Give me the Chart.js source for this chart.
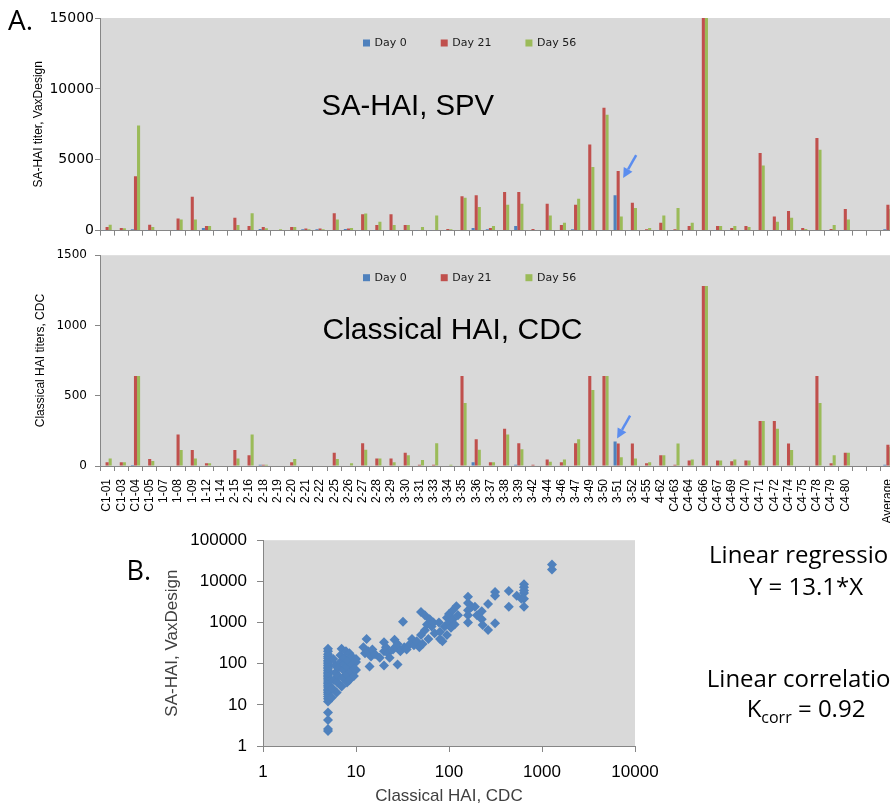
<!DOCTYPE html>
<html><head><meta charset="utf-8">
<script src="https://cdn.jsdelivr.net/npm/chart.js@4.4.0/dist/chart.umd.min.js"></script>
<style>
html,body{margin:0;padding:0;background:#fff;width:890px;height:807px;overflow:hidden;}
#wrap{position:relative;width:890px;height:807px;overflow:hidden;}
canvas{position:absolute;}
.t{position:absolute;white-space:nowrap;color:#000;}
</style></head><body>
<div id="wrap">
<canvas id="c1" width="895" height="240" style="left:0;top:0"></canvas>
<canvas id="c2" width="895" height="290" style="left:0;top:240px"></canvas>
<canvas id="c3" width="560" height="287" style="left:100px;top:520px"></canvas>
<div class="t" style="left:8px;top:5px;font:28px/1 'Open Sans'">A.</div>
<div class="t" style="left:321.5px;top:89.5px;font:29.3px/1 'Liberation Sans'">SA-HAI, SPV</div>
<div class="t" style="left:322.5px;top:313.6px;font:30px/1 'Liberation Sans'">Classical HAI, CDC</div>
<div class="t" style="left:126.5px;top:556px;font:27px/1 'Open Sans'">B.</div>
<div class="t" style="left:656px;width:300px;text-align:center;top:541.7px;font:24px/1 'Open Sans'">Linear regression</div>
<div class="t" style="left:656px;width:300px;text-align:center;top:573.7px;font:24px/1 'Open Sans'">Y = 13.1*X</div>
<div class="t" style="left:656px;width:300px;text-align:center;top:665.7px;font:24px/1 'Open Sans'">Linear correlation</div>
<div class="t" style="left:656px;width:300px;text-align:center;top:695.7px;font:24px/1 'Open Sans'">K<span style="font-size:16px;position:relative;top:6px">corr</span> = 0.92</div>
</div>
<script>
const categories = ['C1-01','C1-03','C1-04','C1-05','1-07','1-08','1-09','1-12','1-14','2-15','2-16','2-18','2-19','2-20','2-21','2-22','2-25','2-26','2-27','2-28','3-29','3-30','3-31','3-33','3-34','3-35','3-36','3-37','3-38','3-39','3-42','3-44','3-46','3-47','3-49','3-50','3-51','3-52','4-55','4-62','C4-63','C4-64','C4-66','C4-67','C4-69','C4-70','C4-71','C4-72','C4-74','C4-75','C4-78','C4-79','C4-80','','','Average'];
const seriesNames = ['Day 0','Day 21','Day 56'];

// SA-HAI titers, VaxDesign (panel A top)
const saDay0  = [20,0,100,30,0,30,0,190,30,30,0,120,0,0,95,100,0,120,30,30,30,30,30,30,30,0,190,95,0,330,0,30,0,95,30,30,2490,30,0,30,30,30,0,30,30,30,0,30,0,30,0,30,30,null,null,100];
const saDay21 = [250,190,3830,420,0,845,2390,330,0,915,330,260,0,250,140,140,1220,140,1150,400,1150,400,0,0,120,2420,2490,190,2720,2720,120,1900,400,1830,6080,8660,4200,1970,95,560,95,330,20480,330,190,330,5470,990,1390,190,6530,120,1530,null,null,1830];
const saDay56 = [420,165,7420,260,0,775,775,330,0,400,1220,165,95,250,95,100,775,190,1200,630,400,400,260,1060,95,2320,1670,330,1830,1900,0,1060,560,2250,4480,8170,990,1600,190,1060,1600,560,25600,330,330,260,4600,630,915,120,5700,400,775,null,null,1530];

// Classical HAI titers, CDC (panel A bottom)
const cdcDay0  = [0,0,7,0,0,0,0,0,0,0,0,9,0,0,0,0,0,0,0,0,0,0,0,0,0,0,26,0,0,9,0,0,0,0,0,0,174,0,0,0,0,0,0,0,0,0,0,0,0,0,0,0,0,null,null,9];
const cdcDay21 = [26,26,640,49,0,225,113,19,0,113,77,9,0,26,0,0,94,0,162,54,54,94,9,9,0,640,190,26,265,162,9,47,26,162,640,640,160,160,19,77,9,40,1280,40,33,40,320,320,160,0,640,19,94,null,null,152];
const cdcDay56 = [54,26,640,35,0,113,54,19,0,54,225,9,0,49,0,0,49,19,115,54,26,77,42,162,9,448,115,26,225,120,0,30,47,190,540,640,63,54,26,77,160,47,1280,40,47,40,320,265,113,0,448,77,94,null,null,136];

const saTicks  = [0,5000,10000,15000];
const cdcTicks = [0,500,1000,1500];

// Panel B scatter: classical HAI (x) vs SA-HAI (y)
const cdcX = [
 5,5,5,5,5,5,5,5,5,5,5,5,5,5,5,5,5,5,5,5,5,5,5,5,5,5,5,5,5,5,5,5,5,
 5.5,5.6,5.8,6,6,5.7,6.2,6.3,6.5,6.5,6.8,6.8,7,7,7.2,7.3,7.5,7.5,7.8,8,8,8,8.2,8.5,8.5,8.8,9,9,9.5,10,10,10,9.6,
 12,12.5,13,13.5,14,14.5,15,16,18,20,20,20,21,22,23,25,26,27,28,28,30,32,33,35,38,40,42,45,
 48,50,50,52,55,55,58,60,62,65,68,70,78,80,80,85,90,95,95,100,100,105,110,110,115,120,125,
 160,160,160,160,160,175,190,200,225,225,230,263,263,313,313,313,
 440,440,535,600,640,640,640,640,640,640,
 1280,1280];
const saY = [
 2.3,2.6,4.3,6.5,12,14,16,18,20,22,24,27,30,33,36,40,44,48,52,57,62,68,75,82,90,100,110,120,135,150,170,200,230,
 15,25,40,60,90,130,20,35,50,80,110,160,230,28,45,70,100,140,200,35,55,85,120,180,40,65,95,150,50,70,110,130,75,
 250,180,400,200,85,150,220,170,140,90,200,330,250,180,140,220,380,260,95,300,200,1050,250,220,300,400,280,350,
 250,1800,500,300,650,1500,900,400,1200,800,1000,550,1000,400,600,350,800,1300,500,1600,1000,750,2000,1200,900,2500,1500,
 4200,3000,2000,1500,1000,2400,2400,1500,1870,1200,870,2800,660,5500,4500,960,
 5800,2400,4500,3800,8500,7200,6000,5200,3800,2400,
 25600,19400];
const scatterXTicks = [1,10,100,1000,10000];
const scatterYTicks = [1,10,100,1000,10000,100000];

const COLORS = ['#4F81BD','#C0504D','#9BBB59'];
const AXIS = '#868686';

const bgPlugin = {
  id: 'plotBg',
  beforeDraw(chart) {
    const {ctx, chartArea: a} = chart;
    ctx.save();
    ctx.fillStyle = '#D9D9D9';
    ctx.fillRect(a.left, a.top, a.right - a.left, a.bottom - a.top);
    ctx.restore();
  }
};

const legendPlugin = {
  id: 'insideLegend',
  afterDraw(chart, args, o) {
    if (!o || o.x == null) return;
    const ctx = chart.ctx;
    ctx.save();
    ctx.font = o.font;
    ctx.textBaseline = 'middle';
    let x = o.x;
    chart.data.datasets.forEach(ds => {
      ctx.fillStyle = ds.backgroundColor;
      ctx.fillRect(x, o.y - 3.5, 7, 7);
      ctx.fillStyle = '#1a1a1a';
      ctx.fillText(ds.label, x + 11.5, o.y + 0.5);
      x += 11.5 + ctx.measureText(ds.label).width + 34;
    });
    ctx.restore();
  }
};

const arrowPlugin = {
  id: 'arrow',
  afterDatasetsDraw(chart, args, o) {
    if (!o || o.dataset == null) return;
    const el = chart.getDatasetMeta(o.dataset).data[o.index];
    const tx = el.x + o.dx, ty = el.y + o.dy;
    const sx = tx + 13, sy = ty - 23;
    const ang = Math.atan2(ty - sy, tx - sx);
    const hl = 10, hw = 5;
    const bx = tx - Math.cos(ang) * hl, by = ty - Math.sin(ang) * hl;
    const ctx = chart.ctx;
    ctx.save();
    ctx.strokeStyle = '#5B8DEF';
    ctx.fillStyle = '#5B8DEF';
    ctx.lineWidth = 2.5;
    ctx.beginPath(); ctx.moveTo(sx, sy); ctx.lineTo(bx, by); ctx.stroke();
    ctx.beginPath();
    ctx.moveTo(tx, ty);
    ctx.lineTo(bx + Math.sin(ang) * hw, by - Math.cos(ang) * hw);
    ctx.lineTo(bx - Math.sin(ang) * hw, by + Math.cos(ang) * hw);
    ctx.closePath(); ctx.fill();
    ctx.restore();
  }
};

function barChart(id, values, cfg) {
  return new Chart(document.getElementById(id), {
    type: 'bar',
    data: {
      labels: categories,
      datasets: values.map((v, i) => ({
        label: seriesNames[i], data: v, backgroundColor: COLORS[i], borderWidth: 0,
        categoryPercentage: 0.65, barPercentage: 1.0
      }))
    },
    plugins: [bgPlugin, legendPlugin, arrowPlugin],
    options: {
      responsive: false, animation: false,
      layout: {padding: {top: cfg.top, left: 0, right: 0, bottom: 0}},
      plugins: {
        legend: {display: false}, tooltip: {enabled: false},
        insideLegend: {x: 363, y: cfg.legendY, font: '11px "DejaVu Sans"'},
        arrow: cfg.arrow
      },
      scales: {
        x: {
          grid: {display: true, drawOnChartArea: false, drawTicks: true, tickLength: 5, color: AXIS, offset: true},
          border: {display: true, color: AXIS},
          ticks: {display: cfg.showLabels, autoSkip: false, minRotation: 90, maxRotation: 90, padding: 8,
                  color: '#000', font: {family: 'Liberation Sans', size: 12}},
          afterFit(s) { s.height = cfg.xHeight; s.paddingLeft = 0; s.paddingRight = 0; }
        },
        y: {
          min: 0, max: cfg.max,
          afterBuildTicks(s) { s.ticks = cfg.ticks.map(v => ({value: v})); },
          grid: {display: true, drawOnChartArea: false, drawTicks: true, tickLength: 5, color: AXIS},
          border: {display: true, color: AXIS},
          ticks: {padding: cfg.tickPad, color: '#000', font: {family: 'DejaVu Sans', size: cfg.tickSize},
                  callback: v => String(v)},
          title: {display: true, text: cfg.title, color: '#000', font: {family: 'Liberation Sans', size: 12},
                  padding: {top: cfg.titlePad, bottom: 0}},
          afterFit(s) { s.width = 100; }
        }
      }
    }
  });
}

barChart('c1', [saDay0, saDay21, saDay56], {
  top: 18, xHeight: 8, showLabels: false, max: 15000, ticks: saTicks, tickPad: 1, tickSize: 14,
  title: 'SA-HAI titer, VaxDesign', titlePad: 31, legendY: 43,
  arrow: {dataset: 1, index: 36, dx: 5, dy: 7}
});

barChart('c2', [cdcDay0, cdcDay21, cdcDay56], {
  top: 12, xHeight: 64, showLabels: true, max: 1500, ticks: cdcTicks, tickPad: 8, tickSize: 12,
  title: 'Classical HAI titers, CDC', titlePad: 33, legendY: 37.7,
  arrow: {dataset: 0, index: 36, dx: 2, dy: -3}
});

new Chart(document.getElementById('c3'), {
  type: 'scatter',
  data: {datasets: [{
    data: cdcX.map((x, i) => ({x: x, y: saY[i]})),
    pointStyle: 'rectRot', pointRadius: 5, backgroundColor: '#4F81BD', borderColor: '#4F81BD', borderWidth: 0
  }]},
  plugins: [bgPlugin],
  options: {
    responsive: false, animation: false,
    layout: {padding: {top: 15, right: 25, left: 0, bottom: 0}},
    plugins: {legend: {display: false}, tooltip: {enabled: false}},
    scales: {
      x: {
        type: 'logarithmic', min: 1, max: 10000,
        afterBuildTicks(s) { s.ticks = scatterXTicks.map(v => ({value: v})); },
        grid: {display: true, drawOnChartArea: false, drawTicks: true, tickLength: 6, color: AXIS},
        border: {display: true, color: AXIS},
        ticks: {padding: 10, color: '#000', font: {family: 'Liberation Sans', size: 17}, callback: v => String(v)},
        title: {display: true, text: 'Classical HAI, CDC', color: '#404040', font: {family: 'Liberation Sans', size: 17}, padding: {top: 0, bottom: 0}},
        afterFit(s) { s.height = 61; s.paddingLeft = 0; s.paddingRight = 0; }
      },
      y: {
        type: 'logarithmic', min: 1, max: 100000,
        afterBuildTicks(s) { s.ticks = scatterYTicks.map(v => ({value: v})); },
        grid: {display: true, drawOnChartArea: false, drawTicks: true, tickLength: 6, color: AXIS},
        border: {display: true, color: AXIS},
        ticks: {padding: 10, color: '#000', font: {family: 'Liberation Sans', size: 17}, callback: v => String(v)},
        title: {display: true, text: 'SA-HAI, VaxDesign', color: '#404040', font: {family: 'Liberation Sans', size: 17}, padding: {top: 62, bottom: 0}},
        afterFit(s) { s.width = 163; }
      }
    }
  }
});
</script>
</body></html>
